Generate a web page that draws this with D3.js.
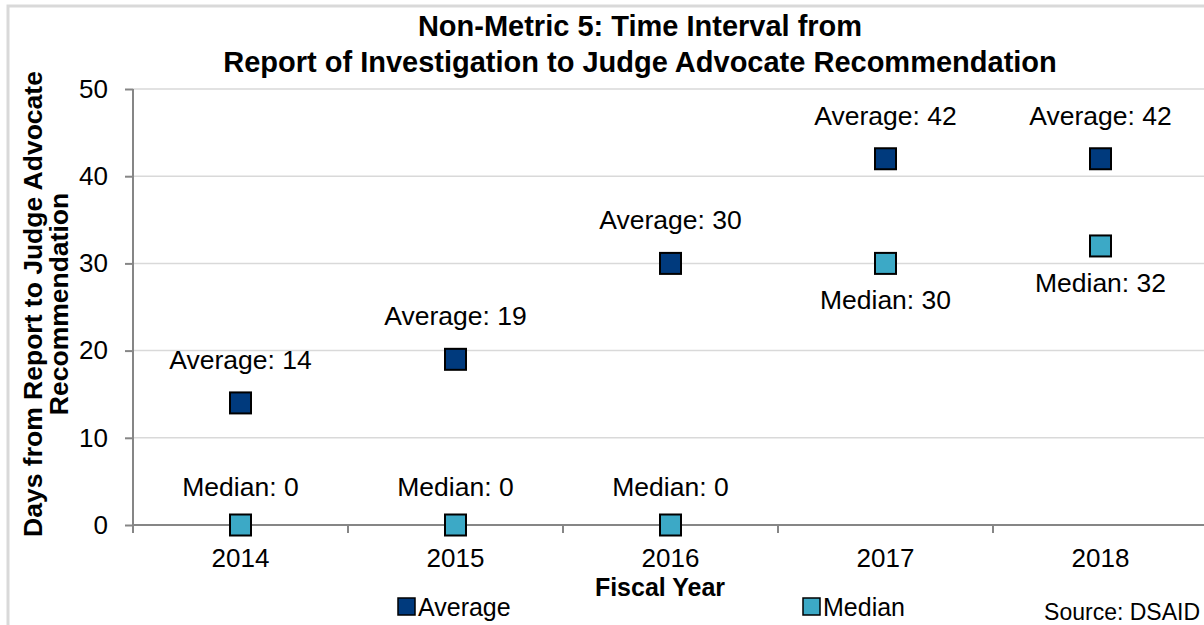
<!DOCTYPE html>
<html>
<head>
<meta charset="utf-8">
<script src="https://cdn.jsdelivr.net/npm/d3@7"></script>
<style>
  body { margin: 0; background: #fff; }
  svg { font-family: "Liberation Sans", Arial, sans-serif; }
  .grid line { stroke: #d9d9d9; stroke-width: 1.5; }
  .axis path, .axis line { stroke: #868686; stroke-width: 2; }
  .axis text { font-size: 26px; fill: #000; }
</style>
</head>
<body>
<div id="chart"></div>
<script>
const years = ["2014", "2015", "2016", "2017", "2018"];
const averageValues = [14, 19, 30, 42, 42];
const medianValues = [0, 0, 0, 30, 32];
const yTicks = [0, 10, 20, 30, 40, 50];
// label placement: true = above the marker
const medianAbove = [true, true, true, false, false];

const width = 1204, height = 625;
const margin = {top: 89, right: -4, bottom: 100, left: 133};
const innerW = width - margin.left - margin.right;
const innerH = height - margin.top - margin.bottom;

const svg = d3.select("#chart").append("svg")
  .attr("width", width)
  .attr("height", height);

// outer frame
svg.append("rect")
  .attr("x", 8).attr("y", 6)
  .attr("width", width + 20).attr("height", height + 20)
  .attr("fill", "none")
  .attr("stroke", "#d9d9d9")
  .attr("stroke-width", 3);

const g = svg.append("g")
  .attr("transform", "translate(" + margin.left + "," + margin.top + ")");

const x = d3.scaleBand().domain(years).range([0, innerW]);
const y = d3.scaleLinear().domain([0, 50]).range([innerH, 0]);

g.append("g")
  .attr("class", "grid")
  .selectAll("line")
  .data(yTicks.filter(d => d > 0))
  .enter().append("line")
  .attr("x1", 0).attr("x2", innerW)
  .attr("y1", d => y(d)).attr("y2", d => y(d));

const yAxis = g.append("g")
  .attr("class", "axis")
  .call(d3.axisLeft(y).tickValues(yTicks).tickSize(8).tickPadding(17).tickSizeOuter(0));
yAxis.select(".domain").attr("d", "M0," + (innerH + 8) + "V0");

const xAxis = g.append("g")
  .attr("class", "axis")
  .attr("transform", "translate(0," + innerH + ")")
  .call(d3.axisBottom(x).tickSize(0).tickPadding(24));
xAxis.select(".domain").attr("d", "M0,0H" + innerW);
xAxis.selectAll(".xtick")
  .data(years.concat(["end"]))
  .enter().append("line")
  .attr("class", "xtick")
  .attr("x1", (d, i) => i * x.step()).attr("x2", (d, i) => i * x.step())
  .attr("y1", 0).attr("y2", 8);

const size = 21;
const cx = d => x(d) + x.bandwidth() / 2;

function drawSeries(values, color, name, above, upOffset) {
  g.selectAll(".pt-" + name)
    .data(values)
    .enter().append("rect")
    .attr("class", "pt-" + name)
    .attr("x", (d, i) => cx(years[i]) - size / 2)
    .attr("y", d => y(d) - size / 2)
    .attr("width", size).attr("height", size)
    .attr("fill", color)
    .attr("stroke", "#000")
    .attr("stroke-width", 2);

  g.selectAll(".lbl-" + name)
    .data(values)
    .enter().append("text")
    .attr("class", "lbl-" + name)
    .attr("x", (d, i) => cx(years[i]))
    .attr("y", (d, i) => above[i] ? y(d) - upOffset : y(d) + 46)
    .attr("text-anchor", "middle")
    .attr("font-size", 26.5)
    .text(d => name + ": " + d);
}

drawSeries(averageValues, "#003a7d", "Average", years.map(() => true), 34);
drawSeries(medianValues, "#3ca9c6", "Median", medianAbove, 29);

// title
svg.append("text")
  .attr("x", 640).attr("y", 36)
  .attr("text-anchor", "middle")
  .attr("font-size", 29).attr("font-weight", "bold")
  .text("Non-Metric 5: Time Interval from");
svg.append("text")
  .attr("x", 640).attr("y", 72)
  .attr("text-anchor", "middle")
  .attr("font-size", 29).attr("font-weight", "bold")
  .text("Report of Investigation to Judge Advocate Recommendation");

// y axis title
const yt = svg.append("text")
  .attr("transform", "translate(42,304) rotate(-90)")
  .attr("text-anchor", "middle")
  .attr("font-size", 26.5).attr("font-weight", "bold");
yt.append("tspan").attr("x", 0).attr("dy", 0).text("Days from Report to Judge Advocate");
yt.append("tspan").attr("x", 0).attr("dy", 26).text("Recommendation");

// x axis title
svg.append("text")
  .attr("x", 660).attr("y", 596)
  .attr("text-anchor", "middle")
  .attr("font-size", 25).attr("font-weight", "bold")
  .text("Fiscal Year");

// legend
const legend = [
  {name: "Average", color: "#003a7d", x: 398},
  {name: "Median", color: "#3ca9c6", x: 803}
];
const lg = svg.selectAll(".legend")
  .data(legend)
  .enter().append("g")
  .attr("class", "legend")
  .attr("transform", d => "translate(" + d.x + ",598)");
lg.append("rect")
  .attr("width", 17).attr("height", 17)
  .attr("fill", d => d.color)
  .attr("stroke", "#000").attr("stroke-width", 1.5);
lg.append("text")
  .attr("x", 20).attr("y", 18)
  .attr("font-size", 25)
  .text(d => d.name);

svg.append("text")
  .attr("x", 1200).attr("y", 620)
  .attr("text-anchor", "end")
  .attr("font-size", 23)
  .text("Source: DSAID");
</script>
</body>
</html>
